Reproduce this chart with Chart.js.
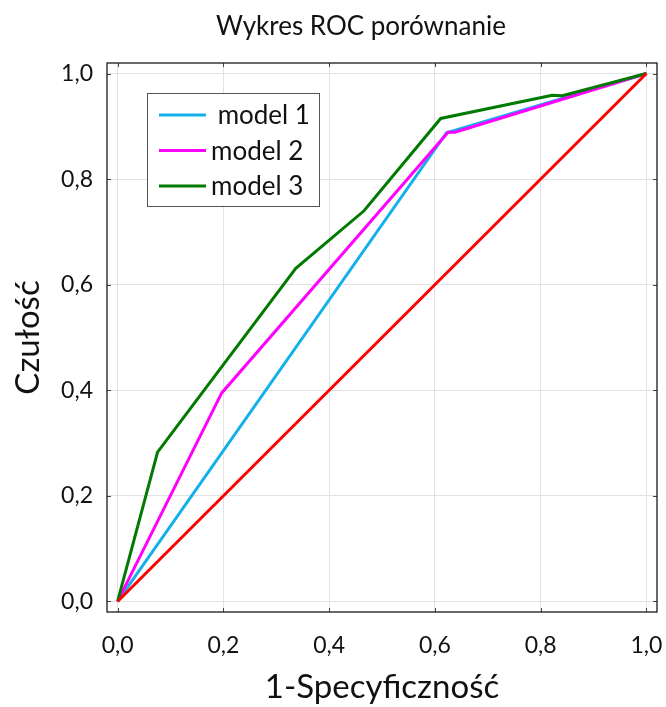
<!DOCTYPE html>
<html>
<head>
<meta charset="utf-8">
<script src="https://cdn.jsdelivr.net/npm/chart.js@4.4.1/dist/chart.umd.min.js"></script>
<style>
  html, body { margin: 0; padding: 0; background: #ffffff; }
  #wrap { position: relative; width: 666px; height: 707px; }
</style>
</head>
<body>
<div id="wrap"><canvas id="c" width="666" height="707"></canvas></div>
<script>
const chartTitle = "Wykres ROC porównanie";
const xTitle = "1-Specyficzność";
const yTitle = "Czułość";
const tickValues = [0, 0.2, 0.4, 0.6, 0.8, 1.0];

const model1X = [0, 0.622, 1];
const model1Y = [0, 0.888, 1];
const model2X = [0, 0.197, 0.625, 0.638, 1];
const model2Y = [0, 0.395, 0.889, 0.889, 1];
const model3X = [0, 0.0756, 0.337, 0.466, 0.611, 0.822, 0.841, 1];
const model3Y = [0, 0.283, 0.631, 0.740, 0.915, 0.959, 0.958, 1];
const refX = [0, 1];
const refY = [0, 1];

const seriesNames = [" model 1", "model 2", "model 3", "ref"];
const seriesColors = ["#13b0ea", "#ff00ff", "#007a00", "#ff0000"];

const FONT = "Lato";
const pts = (xs, ys) => xs.map((x, i) => ({ x: x, y: ys[i] }));

const fmt = v => v.toFixed(1).replace('.', ',');

const framePlugin = {
  id: 'frameTicks',
  afterDatasetsDraw(chart) {
    const { ctx, chartArea: a, scales } = chart;
    ctx.save();
    ctx.strokeStyle = '#444';
    ctx.lineWidth = 1;
    const L = 4;
    tickValues.forEach(v => {
      const px = Math.round(scales.x.getPixelForValue(v)) + 0.5;
      const py = Math.round(scales.y.getPixelForValue(v)) + 0.5;
      ctx.beginPath();
      ctx.moveTo(px, a.bottom); ctx.lineTo(px, a.bottom - L);
      ctx.moveTo(px, a.top); ctx.lineTo(px, a.top + L);
      ctx.moveTo(a.left, py); ctx.lineTo(a.left + L, py);
      ctx.moveTo(a.right, py); ctx.lineTo(a.right - L, py);
      ctx.stroke();
    });
    ctx.strokeStyle = '#1a1a1a';
    ctx.lineWidth = 1.3;
    ctx.strokeRect(a.left, a.top, a.right - a.left, a.bottom - a.top);
    ctx.restore();
  },
  afterDraw(chart) {
    const { ctx } = chart;
    ctx.save();
    ctx.fillStyle = '#111';
    ctx.font = '26px ' + FONT;
    ctx.textAlign = 'center';
    ctx.textBaseline = 'alphabetic';
    ctx.fillText(chartTitle, 361, 35);
    const bx = 147, by = 93, bw = 172, bh = 113;
    ctx.fillStyle = '#ffffff';
    ctx.fillRect(bx, by, bw, bh);
    ctx.strokeStyle = '#555';
    ctx.lineWidth = 1;
    ctx.strokeRect(bx + 0.5, by + 0.5, bw, bh);
    ctx.font = '26px ' + FONT;
    ctx.textAlign = 'left';
    ctx.textBaseline = 'middle';
    for (let i = 0; i < 3; i++) {
      const cy = by + 22 + i * 35.5;
      ctx.strokeStyle = seriesColors[i];
      ctx.lineWidth = 3;
      ctx.beginPath();
      ctx.moveTo(159, cy); ctx.lineTo(206, cy);
      ctx.stroke();
      ctx.fillStyle = '#111';
      ctx.fillText(seriesNames[i], 211, cy + 1);
    }
    ctx.restore();
  }
};

const datasets = [
  { label: seriesNames[0], data: pts(model1X, model1Y), borderColor: seriesColors[0], order: 4 },
  { label: seriesNames[1], data: pts(model2X, model2Y), borderColor: seriesColors[1], order: 3 },
  { label: seriesNames[2], data: pts(model3X, model3Y), borderColor: seriesColors[2], order: 2 },
  { label: seriesNames[3], data: pts(refX, refY), borderColor: seriesColors[3], order: 1 }
].map(d => Object.assign(d, {
  borderWidth: 3, pointRadius: 0, fill: false, tension: 0,
  borderJoinStyle: 'miter', backgroundColor: d.borderColor
}));

new Chart(document.getElementById('c'), {
  type: 'line',
  data: { datasets },
  plugins: [framePlugin],
  options: {
    responsive: false,
    animation: false,
    devicePixelRatio: 1,
    layout: { padding: { top: 63, right: 9, left: 0, bottom: 0 } },
    plugins: { legend: { display: false }, title: { display: false }, tooltip: { enabled: false } },
    scales: {
      x: {
        type: 'linear', min: -0.02, max: 1.02,
        afterBuildTicks: s => { s.ticks = tickValues.map(v => ({ value: v })); },
        afterFit: s => { s.height = 95; s.paddingLeft = 0; s.paddingRight = 0; },
        grid: { color: '#e2e2e2', lineWidth: 1, drawTicks: false },
        border: { display: false },
        ticks: { padding: 20, color: '#111', font: { family: FONT, size: 23 }, callback: v => fmt(v), maxRotation: 0 },
        title: { display: true, text: xTitle, color: '#111', font: { family: FONT, size: 33 }, padding: { top: 0, bottom: 0 } }
      },
      y: {
        type: 'linear', min: -0.02, max: 1.02,
        afterBuildTicks: s => { s.ticks = tickValues.map(v => ({ value: v })); },
        afterFit: s => { s.width = 107; s.paddingTop = 0; s.paddingBottom = 0; },
        grid: { color: '#e2e2e2', lineWidth: 1, drawTicks: false },
        border: { display: false },
        ticks: { padding: 14, color: '#111', font: { family: FONT, size: 23 }, callback: v => fmt(v) },
        title: { display: true, text: yTitle, color: '#111', font: { family: FONT, size: 33 }, padding: { top: 9, bottom: 0 } }
      }
    }
  }
});
</script>
</body>
</html>
